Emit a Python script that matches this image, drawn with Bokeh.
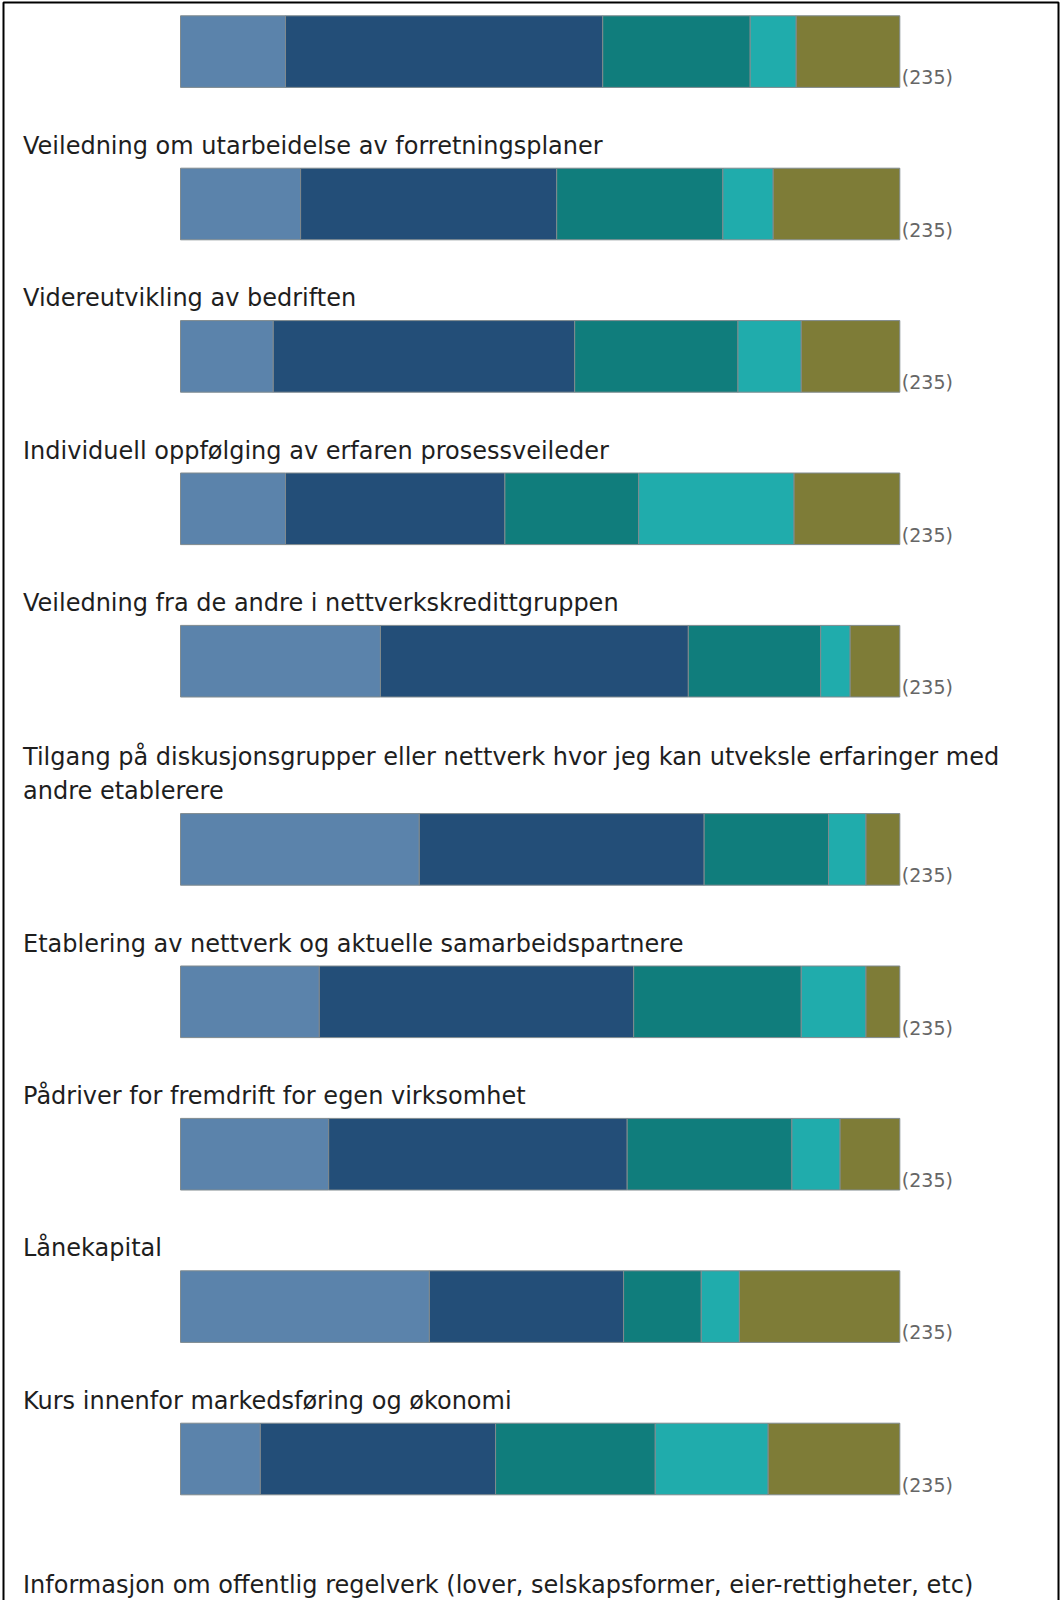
from bokeh.plotting import figure
from bokeh.models import Range1d, ColumnDataSource
from bokeh.core.properties import value
from bokeh.embed import file_html
from bokeh.resources import INLINE

# ---------------- data ----------------
labels = [
    "",
    "Veiledning om utarbeidelse av forretningsplaner",
    "Videreutvikling av bedriften",
    "Individuell oppfølging av erfaren prosessveileder",
    "Veiledning fra de andre i nettverkskredittgruppen",
    "Tilgang på diskusjonsgrupper eller nettverk hvor jeg kan utveksle erfaringer med\nandre etablerere",
    "Etablering av nettverk og aktuelle samarbeidspartnere",
    "Pådriver for fremdrift for egen virksomhet",
    "Lånekapital",
    "Kurs innenfor markedsføring og økonomi",
]
last_label = "Informasjon om offentlig regelverk (lover, selskapsformer, eier-rettigheter, etc)"

counts = [235, 235, 235, 235, 235, 235, 235, 235, 235, 235]

s1 = [14.6, 16.7, 12.9, 14.6, 27.8, 33.2, 19.3, 20.6, 34.6, 11.1]
s2 = [44.1, 35.6, 41.9, 30.5, 42.8, 39.6, 43.7, 41.5, 27.0, 32.7]
s3 = [20.5, 23.1, 22.7, 18.6, 18.4, 17.3, 23.3, 22.9, 10.8, 22.2]
s4 = [6.4, 7.0, 8.8, 21.6, 4.1, 5.2, 9.0, 6.7, 5.3, 15.7]
s5 = [14.4, 17.6, 13.7, 14.7, 6.9, 4.7, 4.7, 8.3, 22.3, 18.3]

colors = ["#5b83ab", "#234e78", "#107d7c", "#20acac", "#7e7c37"]

# ---------------- layout (pixels) ----------------
W, H = 1060, 1600
bar_left_px, bar_right_px = 180.0, 899.3
k = (bar_right_px - bar_left_px) / 100.0
first_top = 15.3
period = 152.4
extra_line = 35.8
text_line = 33.8
bar_h = 71.6
label_gap = 22.5
last_extra = 32.0
label_x_px = 22.5

p = figure(width=W, height=H, output_backend="svg", toolbar_location=None,
           x_axis_location=None, y_axis_location=None,
           x_range=Range1d(-bar_left_px / k, (W - bar_left_px) / k),
           y_range=Range1d(H, 0), min_border=0)
p.grid.visible = False
p.outline_line_color = None
p.background_fill_color = "white"
p.border_fill_color = "white"

series = [s1, s2, s3, s4, s5]
tops = []
t = first_top
for i, lab in enumerate(labels):
    nlines = lab.count("\n") + 1 if lab else 1
    t += (nlines - 1) * extra_line if i > 0 else 0
    tops.append(t)
    t += period
bottoms = [tp + bar_h for tp in tops]

# stacked segments
for j, s in enumerate(series):
    lefts = [sum(series[m][i] for m in range(j)) for i in range(len(s))]
    rights = [lefts[i] + s[i] for i in range(len(s))]
    src = ColumnDataSource(dict(left=lefts, right=rights, top=tops, bottom=bottoms))
    p.quad(left="left", right="right", top="top", bottom="bottom", source=src,
           fill_color=colors[j], line_color="#808a8e", line_width=1)

# row labels
lx, ly, lt = [], [], []
for i, lab in enumerate(labels):
    if not lab:
        continue
    lines = lab.split("\n")
    for n, line in enumerate(lines):
        lx.append((label_x_px - bar_left_px) / k)
        ly.append(tops[i] - label_gap - (len(lines) - 1 - n) * text_line)
        lt.append(line)
lx.append((label_x_px - bar_left_px) / k)
ly.append(tops[-1] + period - label_gap + last_extra)
lt.append(last_label)
p.text(x=lx, y=ly, text=lt, text_font=value("DejaVu Sans"), text_font_size="24px",
       text_color="#1e1e1e", text_baseline="middle", text_align="left")

# n labels
p.text(x=[100 + 2.0 / k] * len(counts), y=[b - 10 for b in bottoms],
       text=["(%d)" % c for c in counts], text_font=value("DejaVu Sans"),
       text_font_size="19px", text_color="#666666", text_baseline="middle",
       text_align="left")

# frame (left, top, right)
xl = (3 - bar_left_px) / k
xr = (1058 - bar_left_px) / k
fx = [xl, xl, xr, xr]
fy = [H + 5, 2, 2, H + 5]
p.line(x=fx, y=fy, line_color="black", line_width=2)

open("out.html", "w").write(file_html(p, INLINE))
